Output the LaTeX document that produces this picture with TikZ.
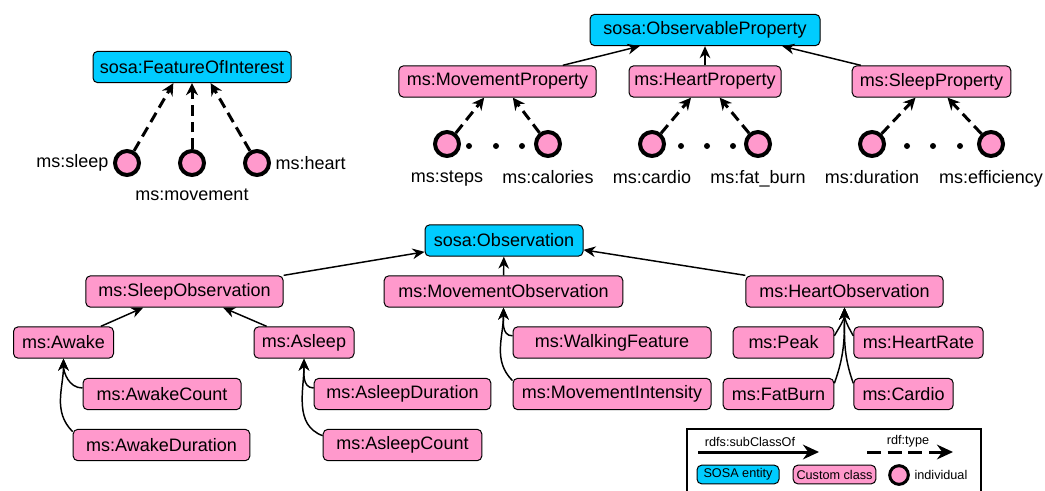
\documentclass[tikz,border=0pt]{standalone}
\usepackage{fontspec}
\setmainfont{Liberation Sans}
\usepackage{xcolor}
\usepackage{tikz}
\usetikzlibrary{arrows.meta}
\definecolor{sosablue}{RGB}{0,204,255}
\definecolor{mspink}{RGB}{255,153,204}

\begin{document}
\begin{tikzpicture}[x=0.75pt,y=-0.75pt,font=\fontsize{13.5}{16}\selectfont,
  sosa/.style={rectangle,rounded corners=3.5pt,draw,line width=0.75pt,fill=sosablue,minimum height=23.5pt,inner xsep=2pt,inner ysep=1pt},
  cls/.style={sosa,fill=mspink},
  indiv/.style={circle,draw,line width=3pt,fill=mspink,minimum size=18pt,inner sep=0pt},
  subarrow/.style={-{Stealth[length=9pt,width=8pt]},line width=1.1pt},
  typearrow/.style={-{Stealth[length=9pt,width=9pt]},line width=2.25pt,dash pattern=on 8pt off 4.5pt},
  legtext/.style={font=\fontsize{9.5}{11}\selectfont}]
\useasboundingbox (0,0) rectangle (1045,490);

% features of interest
\node (FOI)[sosa,minimum width=148.5pt] at (192,67) {sosa:FeatureOfInterest};
\node (sleep)[indiv] at (127,163) {};
\node (movement)[indiv] at (192,163) {};
\node (heart)[indiv] at (257,163) {};
\node[left] (sleeplab) at (sleep.west) {ms:sleep};
\node[below,yshift=-5pt] (movementlab) at (movement.south) {ms:movement};
\node[right] (heartlab) at (heart.east) {ms:heart};
\draw[typearrow] (sleep) -- ([xshift=-14pt]FOI.south);
\draw[typearrow] (movement) -- (FOI.south);
\draw[typearrow] (heart) -- ([xshift=14pt]FOI.south);

% observable properties
\node (OP)[sosa,minimum width=172.5pt] at (705,30) {sosa:ObservableProperty};
\node (MP)[cls,minimum width=148pt] at (497.5,81.5) {ms:MovementProperty};
\node (HP)[cls,minimum width=114pt] at (705,81.5) {ms:HeartProperty};
\node (SP)[cls,minimum width=119pt] at (931.5,81.5) {ms:SleepProperty};
\draw[subarrow] ([xshift=49pt]MP.north) -- ([xshift=-49pt]OP.south);
\draw[subarrow] (HP) -- (OP);
\draw[subarrow] ([xshift=-53pt]SP.north) -- ([xshift=58pt]OP.south);

\node (steps)[indiv] at (447,144) {};
\node (calories)[indiv] at (548,144) {};
\node (cardio)[indiv] at (652,144) {};
\node (fatburn)[indiv] at (758,144) {};
\node (duration)[indiv] at (872,144) {};
\node (efficiency)[indiv] at (991,144) {};
\node[below,yshift=-6pt] (stepslab) at (steps.south) {ms:steps};
\node[below,yshift=-6pt] (calorieslab) at (calories.south) {ms:calories};
\node[below,yshift=-6pt] (cardiolab) at (cardio.south) {ms:cardio};
\node[below,yshift=-6pt] (fatburnlab) at (fatburn.south) {ms:fat\_burn};
\node[below,yshift=-6pt] (durationlab) at (duration.south) {ms:duration};
\node[below,yshift=-6pt] (efficiencylab) at (efficiency.south) {ms:efficiency};
\foreach \x in {469,496,522,681,707,733,907,933,960}
  \fill (\x,146) circle (2.25pt);
\draw[typearrow] (steps) -- ([xshift=-10pt]MP.south);
\draw[typearrow] (calories) -- ([xshift=11.5pt]MP.south);
\draw[typearrow] (cardio) -- ([xshift=-10.5pt]HP.south);
\draw[typearrow] (fatburn) -- ([xshift=11pt]HP.south);
\draw[typearrow] (duration) -- ([xshift=-12pt]SP.south);
\draw[typearrow] (efficiency) -- ([xshift=12pt]SP.south);

% observations
\node (OBS)[sosa,minimum width=118.5pt] at (504,240.5) {sosa:Observation};
\node (SO)[cls,minimum width=148pt] at (184.5,291.5) {ms:SleepObservation};
\node (MO)[cls,minimum width=179pt] at (503.5,291.5) {ms:MovementObservation};
\node (HO)[cls,minimum width=148pt] at (844.5,291.5) {ms:HeartObservation};
\draw[subarrow] (SO.north east) -- ([yshift=-8.5pt]OBS.west);
\draw[subarrow] (MO) -- (OBS);
\draw[subarrow] (HO.north west) -- ([yshift=-7pt]OBS.east);

\node (AW)[cls,minimum width=75pt] at (63.5,342.5) {ms:Awake};
\node (AS)[cls,minimum width=75pt] at (304,342.5) {ms:Asleep};
\node (AWC)[cls,minimum width=118.5pt] at (162,394) {ms:AwakeCount};
\node (AWD)[cls,minimum width=132.5pt] at (161.5,445) {ms:AwakeDuration};
\node (ASD)[cls,minimum width=132.5pt] at (402.5,394) {ms:AsleepDuration};
\node (ASC)[cls,minimum width=119pt] at (402.5,445) {ms:AsleepCount};
\draw[subarrow] ([xshift=28pt]AW.north) -- ([xshift=-31pt]SO.south);
\draw[subarrow] ([xshift=-28pt]AS.north) -- ([xshift=29pt]SO.south);
\draw[subarrow] ([yshift=4.5pt]AWC.west) to[out=180,in=-90] (AW.south);
\draw[subarrow] ([yshift=10pt]AWD.west) to[out=135,in=-90] (AW.south);
\draw[subarrow] ([yshift=4.5pt]ASD.west) to[out=180,in=-90] (AS.south);
\draw[subarrow] ([yshift=7pt]ASC.west) to[out=160,in=-90] (AS.south);

\node (WF)[cls,minimum width=148.5pt] at (612,342.5) {ms:WalkingFeature};
\node (MI)[cls,minimum width=148.5pt] at (612,394) {ms:MovementIntensity};
\draw[subarrow] ([yshift=5pt]WF.west) to[out=180,in=-90] (MO.south);
\draw[subarrow] ([yshift=10pt]MI.west) to[out=135,in=-90] (MO.south);

\node (PK)[cls,minimum width=75.5pt] at (783.5,342.5) {ms:Peak};
\node (HR)[cls,minimum width=97pt] at (918.5,342.5) {ms:HeartRate};
\node (FB)[cls,minimum width=83pt] at (778.5,394) {ms:FatBurn};
\node (CD)[cls,minimum width=74.5pt] at (903.5,394) {ms:Cardio};
\draw[subarrow] ([yshift=5pt]PK.east) to[out=60,in=-90] (HO.south);
\draw[subarrow] ([yshift=5pt]HR.west) to[out=120,in=-90] (HO.south);
\draw[subarrow] ([yshift=8pt]FB.east) to[out=70,in=-90] (HO.south);
\draw[subarrow] ([yshift=8pt]CD.west) to[out=110,in=-90] (HO.south);

% legend
\draw[line width=1.1pt] (687,429) rectangle (981,500);
\coordinate (subA) at (698,452);
\coordinate (subB) at (819,452);
\coordinate (typeA) at (867,452);
\coordinate (typeB) at (953,452);
\draw[-{Stealth[length=12pt,width=11pt]},line width=2.25pt] (subA) -- (subB);
\draw[typearrow,-{Stealth[length=12pt,width=11pt]},dash pattern=on 10.5pt off 5pt] (typeA) -- (typeB);
\node[legtext] (subtxt) at (750,442) {rdfs:subClassOf};
\node[legtext] (typetxt) at (908,441) {rdf:type};
\node[sosa,legtext,minimum width=61.5pt,minimum height=14pt] (legsosa) at (738,474.5) {SOSA entity};
\node[cls,legtext,minimum width=62pt,minimum height=14pt,inner xsep=1pt] (legcls) at (834.5,474.5) {Custom class};
\node[indiv,minimum size=14pt,line width=2.25pt] (legind) at (899,475) {};
\node[right,legtext] (legindlab) at (legind.east) {individual};
\end{tikzpicture}
\end{document}
